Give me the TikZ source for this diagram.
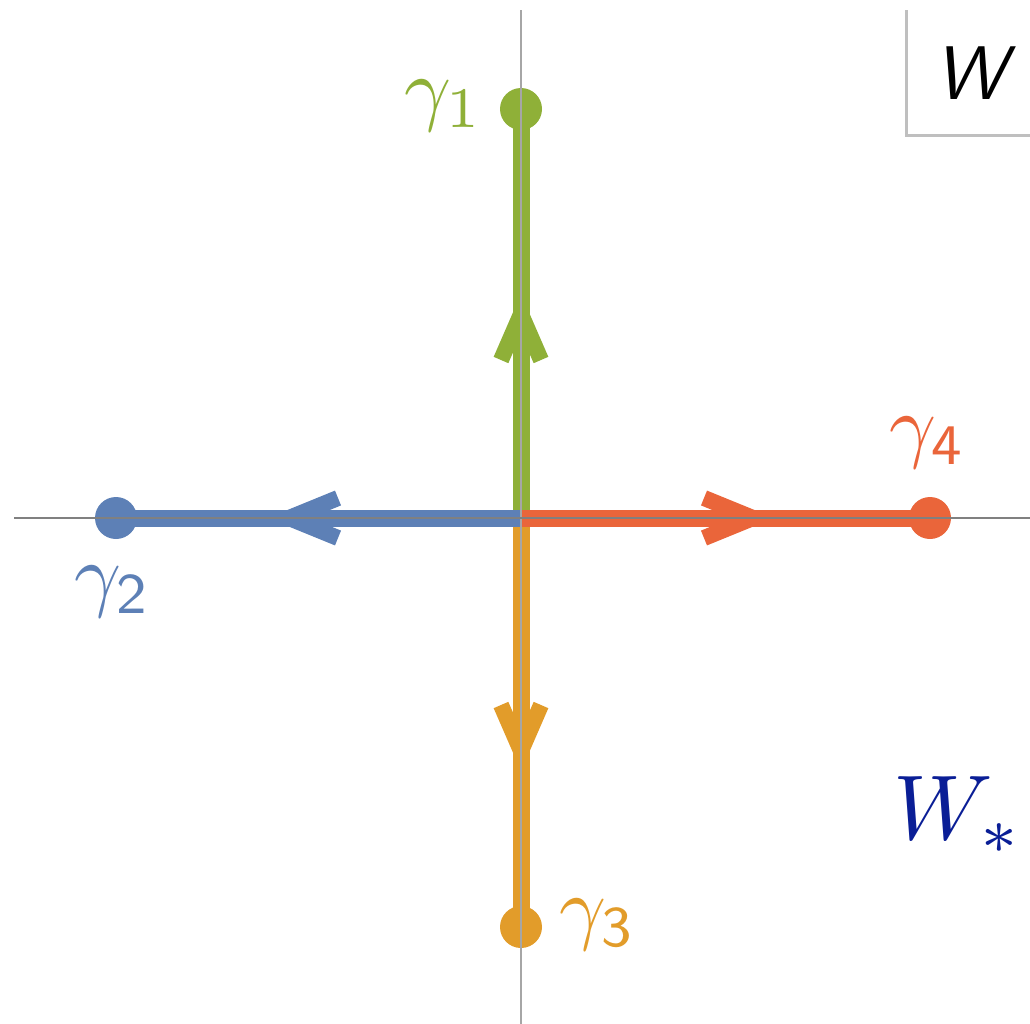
\documentclass[tikz,border=0pt]{standalone}
\usepackage{graphicx}
\usepackage{amsmath}
\begin{document}
\begin{tikzpicture}[x=0.5pt,y=-0.5pt,
  curve/.style={line width=8.5pt},
  dotnode/.style={circle,inner sep=0pt,minimum size=21pt},
  chev/.style={line width=8pt,miter limit=10},
  lab/.style={inner sep=0pt}]
\definecolor{cgreen}{RGB}{143,176,56}
\definecolor{cblue}{RGB}{93,128,182}
\definecolor{corange}{RGB}{226,156,42}
\definecolor{cred}{RGB}{234,101,58}
\definecolor{cwstar}{RGB}{10,30,150}
\useasboundingbox (0,0) rectangle (1030,1024);
\coordinate (o) at (521,518);
\node[dotnode,fill=cgreen] (g1) at (521,109) {};
\node[dotnode,fill=cblue] (g2) at (116,518) {};
\node[dotnode,fill=corange] (g3) at (521,927) {};
\node[dotnode,fill=cred] (g4) at (930,518) {};
\draw[curve,cgreen] (o) -- (g1.center);
\draw[curve,corange] (o) -- (g3.center);
\draw[curve,cblue] (o) -- (g2.center);
\draw[curve,cred] (o) -- (g4.center);
% chevrons
\draw[chev,cgreen] (501,360) -- (521,314) -- (541,360);
\draw[chev,corange] (501,705) -- (521,751) -- (541,705);
\draw[chev,cblue] (338,498) -- (289,518) -- (338,538);
\draw[chev,cred] (704,498) -- (753,518) -- (704,538);
% axes
\coordinate (vt) at (521,10); \coordinate (vb) at (521,1024);
\coordinate (hl) at (14,518); \coordinate (hr) at (1030,518);
\draw[line width=0.6pt,black!35] (vt) -- (vb);
\draw[line width=0.6pt,black!50] (hl) -- (hr);
% box
\coordinate (b1) at (906,10); \coordinate (b2) at (906,135); \coordinate (b3) at (1030,135);
\draw[line width=1.5pt,black!25] (b1) -- (b2) -- (b3);
\node[inner sep=0pt] (w) at (970,73) {\scalebox{3.8}{\sffamily\itshape W}};
\node[inner sep=0pt,text=cwstar] (ws) at (958,815) {\scalebox{4.6}{$W_{*}$}};
% labels
\node[lab,text=cgreen] (l1) at (444,106) {\scalebox{4.1}{$\gamma_{1}$}};
\node[lab,text=cblue] (l2) at (113,592) {\scalebox{4.1}{$\gamma_{\mathsf{2}}$}};
\node[lab,text=corange] (l3) at (598,925) {\scalebox{4.1}{$\gamma_{\mathsf{3}}$}};
\node[lab,text=cred] (l4) at (928,443) {\scalebox{4.1}{$\gamma_{\mathsf{4}}$}};
\end{tikzpicture}
\end{document}
